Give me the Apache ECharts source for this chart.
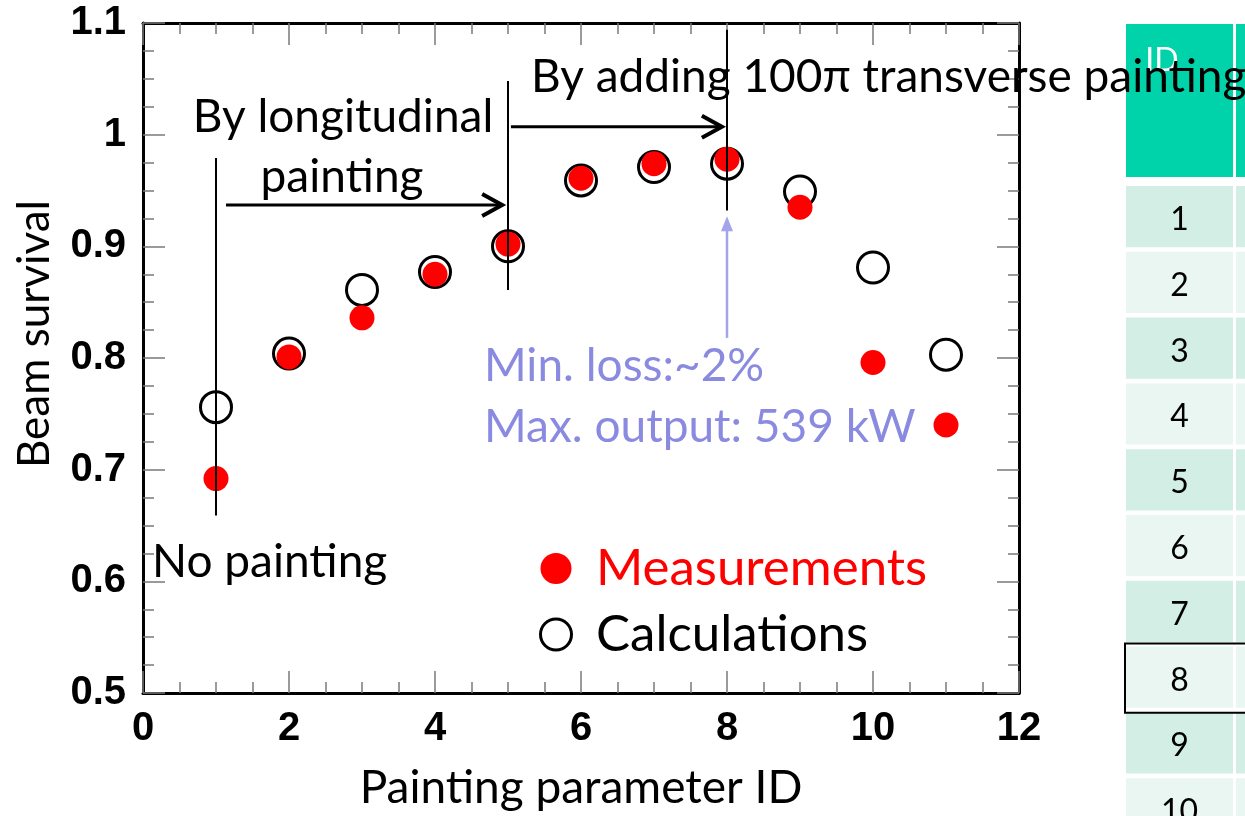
<!DOCTYPE html>
<html>
<head>
<meta charset="utf-8">
<script src="https://cdn.jsdelivr.net/npm/echarts@6/dist/echarts.min.js"></script>
<style>
  html, body { margin: 0; padding: 0; background: #ffffff; }
  #chart { width: 1245px; height: 816px; }
</style>
</head>
<body>
<div id="chart"></div>
<script>
// Painting parameter IDs and beam survival at each setting
const paintingIds = [1, 2, 3, 4, 5, 6, 7, 8, 9, 10, 11];
const measured   = [0.692, 0.801, 0.836, 0.875, 0.902, 0.961, 0.974, 0.978, 0.935, 0.796, 0.740];
const calculated = [0.756, 0.804, 0.861, 0.877, 0.900, 0.959, 0.971, 0.974, 0.949, 0.881, 0.803];

// Parameter table rows (ID column) and the highlighted setting
const tableIds = [1, 2, 3, 4, 5, 6, 7, 8, 9, 10];
const selectedId = 8;

// Annotation markers in data coordinates: [x, yFrom, yTo]
const markerLines = [[1, 0.659, 0.979], [5, 0.861, 1.048], [8, 0.932, 1.094]];
const stepArrows = [
  { from: [1.137, 0.937], to: [4.92, 0.937] },
  { from: [5.04, 1.007], to: [7.93, 1.007] }
];
const bestArrow = { from: [8, 0.818], to: [8, 0.927] };

const CALIBRI = 'Lato, "Open Sans", sans-serif';
const BOLD = '"Liberation Sans", Arial, sans-serif';
const PURPLE = '#8a8be0';

const chart = echarts.init(document.getElementById('chart'), null, { renderer: 'canvas' });

const tickStyle = { color: '#7a7a7a', width: 1.5 };
function frameAxis(base) {
  return Object.assign({
    type: 'value',
    gridIndex: 0,
    axisLine: { show: true, onZero: false, lineStyle: { color: '#000000', width: 3 } },
    axisTick: { show: true, inside: true, length: 22, lineStyle: tickStyle },
    minorTick: { show: true, splitNumber: 4, length: 11, lineStyle: tickStyle },
    splitLine: { show: false },
    minorSplitLine: { show: false }
  }, base);
}

const xLabel = { show: true, fontSize: 40, fontWeight: 'bold', fontFamily: BOLD, color: '#000', margin: 16 };
const yLabel = { show: true, fontSize: 40, fontWeight: 'bold', fontFamily: BOLD, color: '#000', margin: 17 };

// Table layout in table-axis units (one row pitch = one unit, one column = 110px)
const TABLE = { headerEnd: 2.325, firstRow: 2.462, rowHeight: 0.93, colWidth: 0.973 };
const tableData = [[0, 0, 'ID'], [0, 1, '']];
tableIds.forEach(id => { tableData.push([id, 0, String(id)]); tableData.push([id, 1, '']); });

const option = {
  backgroundColor: '#ffffff',
  animation: false,
  grid: [
    { left: 143, top: 23, width: 876, height: 674, show: false },
    { left: 1126, top: 24, width: 119, height: 792, show: false }
  ],
  xAxis: [
    frameAxis({ min: 0, max: 12, interval: 2, position: 'bottom', axisLabel: xLabel,
      name: 'Painting parameter ID', nameLocation: 'middle', nameGap: 72,
      nameTextStyle: { fontFamily: CALIBRI, fontSize: 46, color: '#000' } }),
    frameAxis({ min: 0, max: 12, interval: 2, position: 'top', axisLabel: { show: false } }),
    { type: 'value', gridIndex: 1, min: 0, max: 119 / 110, show: false }
  ],
  yAxis: [
    frameAxis({ min: 0.5, max: 1.1, interval: 0.1, position: 'left', axisLabel: yLabel }),
    frameAxis({ min: 0.5, max: 1.1, interval: 0.1, position: 'right', axisLabel: { show: false } }),
    { type: 'value', gridIndex: 1, min: 0, max: 792 / 65.8, inverse: true, show: false }
  ],
  legend: {
    orient: 'vertical',
    left: 534,
    top: 538,
    itemWidth: 70,
    itemHeight: 31,
    itemGap: 15,
    selectedMode: false,
    textStyle: { fontFamily: CALIBRI, fontSize: 51, lineHeight: 50, color: '#000' },
    data: [
      { name: 'Measurements', icon: 'circle', itemStyle: { color: '#ff0000', borderWidth: 0 },
        textStyle: { color: '#ff0000' } },
      { name: 'Calculations', icon: 'circle',
        itemStyle: { color: '#ffffff', borderColor: '#000000', borderWidth: 3 } }
    ]
  },
  series: [
    {
      name: 'Calculations',
      type: 'scatter',
      xAxisIndex: 0, yAxisIndex: 0,
      symbol: 'circle',
      symbolSize: 31,
      itemStyle: { color: 'rgba(255,255,255,0)', borderColor: '#000000', borderWidth: 3, opacity: 1 },
      data: paintingIds.map((id, i) => [id, calculated[i]]),
      z: 3
    },
    {
      name: 'Measurements',
      type: 'scatter',
      xAxisIndex: 0, yAxisIndex: 0,
      symbol: 'circle',
      symbolSize: 25,
      itemStyle: { color: '#ff0000', opacity: 1 },
      data: paintingIds.map((id, i) => [id, measured[i]]),
      z: 4
    },
    {
      type: 'custom',
      xAxisIndex: 2, yAxisIndex: 2,
      silent: true,
      z: 1,
      data: tableData,
      renderItem: function (params, api) {
        const row = api.value(0);
        const col = api.value(1);
        const label = tableData[params.dataIndex][2];
        let y0, y1;
        if (row === 0) { y0 = 0; y1 = TABLE.headerEnd; }
        else { y0 = TABLE.firstRow + (row - 1); y1 = y0 + TABLE.rowHeight; }
        const p0 = api.coord([col, y0]);
        const p1 = api.coord([col + TABLE.colWidth, y1]);
        const fill = row === 0 ? '#00d2aa' : (row % 2 ? '#d3eee4' : '#e9f6f2');
        const children = [{
          type: 'rect',
          shape: { x: p0[0], y: p0[1], width: p1[0] - p0[0], height: p1[1] - p0[1] },
          style: { fill: fill }
        }];
        if (label) {
          const isHeader = row === 0;
          children.push({
            type: 'text',
            x: isHeader ? p0[0] + 36 : (p0[0] + p1[0]) / 2,
            y: isHeader ? p0[1] + 37 : (p0[1] + p1[1]) / 2 + 3,
            style: {
              text: label, fill: isHeader ? '#ffffff' : '#000000',
              font: '32px ' + CALIBRI, align: 'center', verticalAlign: 'middle'
            }
          });
        }
        if (row === selectedId && col === 0) {
          children.push({
            type: 'rect',
            shape: { x: p0[0] - 1, y: p0[1] - 3, width: 300, height: p1[1] - p0[1] + 8 },
            style: { fill: 'none', stroke: '#000000', lineWidth: 2 },
            z2: 10
          });
        }
        return { type: 'group', children: children };
      }
    }
  ]
};

chart.setOption(option);

// Annotations: marker lines, step arrows, and explanatory text
const toPx = p => chart.convertToPixel({ seriesIndex: 0 }, p);
const elements = [];

markerLines.forEach(([x, y0, y1]) => {
  const a = toPx([x, y0]), b = toPx([x, y1]);
  elements.push({ type: 'line', z: 20, shape: { x1: a[0], y1: a[1], x2: b[0], y2: b[1] },
    style: { stroke: '#000', lineWidth: 2 } });
});

stepArrows.forEach(arr => {
  const a = toPx(arr.from), b = toPx(arr.to);
  elements.push({ type: 'line', z: 20, shape: { x1: a[0], y1: a[1], x2: b[0] - 1, y2: b[1] },
    style: { stroke: '#000', lineWidth: 3 } });
  elements.push({ type: 'polyline', z: 20,
    shape: { points: [[b[0] - 20, b[1] - 11], [b[0], b[1]], [b[0] - 20, b[1] + 11]] },
    style: { stroke: '#000', lineWidth: 4, lineJoin: 'miter', fill: null } });
});

(function () {
  const a = toPx(bestArrow.from), b = toPx(bestArrow.to);
  elements.push({ type: 'line', z: 20, shape: { x1: a[0], y1: a[1], x2: b[0], y2: b[1] + 10 },
    style: { stroke: '#a3a4ea', lineWidth: 2.5 } });
  elements.push({ type: 'polygon', z: 20,
    shape: { points: [[b[0], b[1]], [b[0] - 6, b[1] + 15], [b[0] + 6, b[1] + 15]] },
    style: { fill: '#a3a4ea' } });
})();

function addText(text, x, y, opts) {
  elements.push({
    type: 'text', z: 30, x: x, y: y, rotation: (opts && opts.rotation) || 0,
    style: Object.assign({ text: text, font: '46px ' + CALIBRI, fill: '#000',
      align: 'left', verticalAlign: 'middle' }, opts && opts.style)
  });
}
addText('No painting', 152, 562);
addText('By longitudinal', 343, 117, { style: { align: 'center' } });
addText('painting', 342, 177, { style: { align: 'center' } });
addText('By adding 100π transverse painting', 531, 77);
addText('Min. loss:~2%', 484, 366, { style: { fill: PURPLE } });
addText('Max. output: 539 kW', 484, 427, { style: { fill: PURPLE } });
addText('Beam survival', 35, 334, { rotation: Math.PI / 2, style: { align: 'center', font: '44px ' + CALIBRI } });

chart.setOption({ graphic: { elements: elements } });
</script>
</body>
</html>
